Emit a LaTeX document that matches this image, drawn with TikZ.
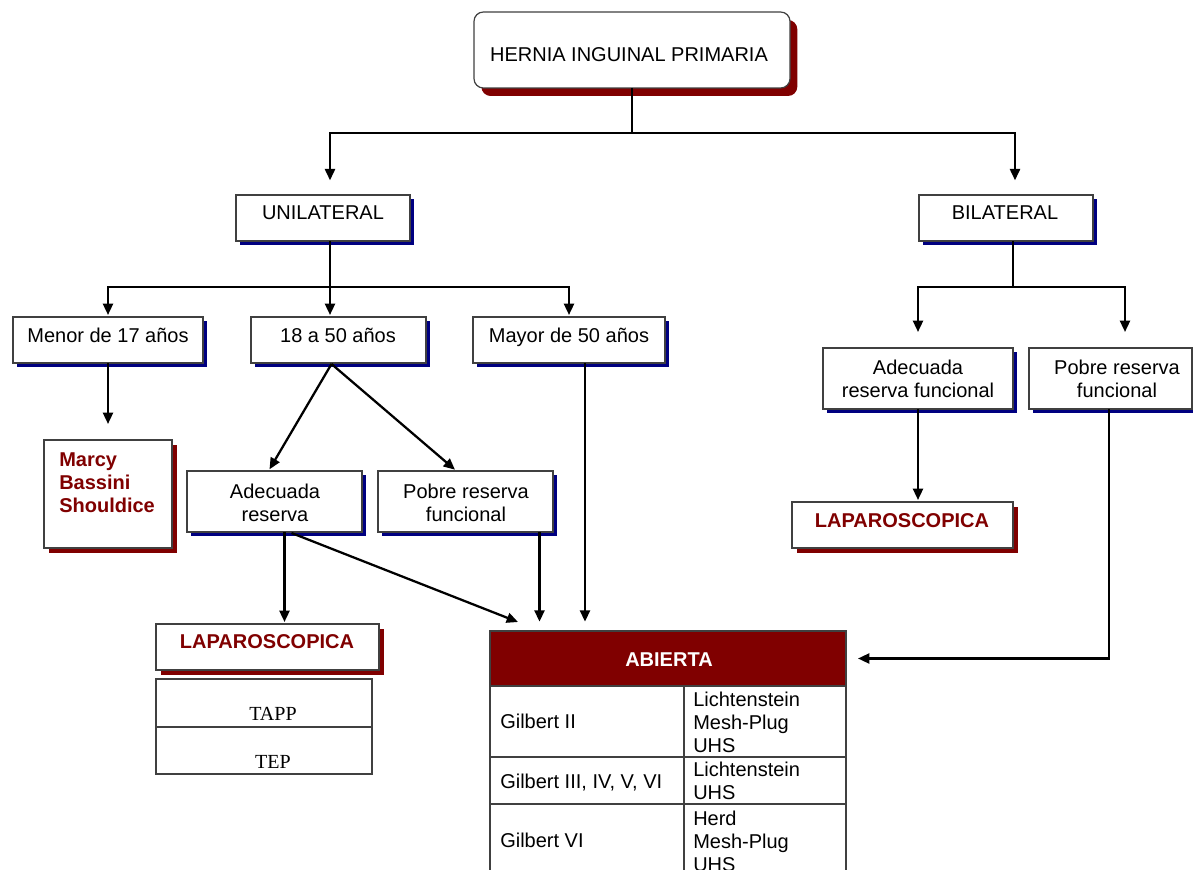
\documentclass[tikz,border=0pt]{standalone}
\usepackage{fontspec}
\setmainfont{Liberation Sans}
\newfontfamily\tnrfont{Liberation Serif}
\usetikzlibrary{shadows,fit,calc,arrows.meta}
\definecolor{maroonC}{RGB}{128,0,0}
\definecolor{navyC}{RGB}{0,0,128}
\definecolor{edgeC}{RGB}{64,64,64}
\begin{document}
\begin{tikzpicture}[x=0.75pt,y=-0.75pt,
  font=\fontsize{15}{17.25}\selectfont,
  bx/.style={draw=edgeC, line width=0.9pt, fill=white, inner sep=0pt, outer sep=0pt},
  bshadow/.style={drop shadow={shadow xshift=3pt,shadow yshift=-3pt,fill=navyC,opacity=1}},
  rshadow/.style={drop shadow={shadow xshift=4pt,shadow yshift=-4pt,fill=maroonC,opacity=1}},
  tshadow/.style={drop shadow={shadow xshift=5.5pt,shadow yshift=-6pt,fill=maroonC,opacity=1}},
  txt/.style={inner sep=0pt, anchor=base, align=center},
  ltxt/.style={inner sep=0pt, anchor=base west, align=left},
  redtxt/.style={font=\fontsize{15}{17.25}\selectfont\bfseries, text=maroonC},
  serif/.style={font=\fontsize{15}{17.25}\selectfont\tnrfont},
  tline/.style={draw=edgeC, line width=0.8pt},
  conn/.style={line width=1.7pt, black},
  arr/.style={conn, -{Triangle[length=8.5pt,width=7.5pt]}},
]
\useasboundingbox (0,0) rectangle (1193,870);
\begin{scope}
\clip (0,0) rectangle (1193,870);

% ---------- boxes ----------
\node[bx, tshadow, rounded corners=7pt, fit={(474,12) (790,88)}] (top) {};
\node[txt] at (629,62) {HERNIA INGUINAL PRIMARIA};

\node[bx, bshadow, fit={(236,195) (410,241)}] (uni) {};
\node[txt] at (323,220) {UNILATERAL};
\node[bx, bshadow, fit={(919,195) (1093,241)}] (bil) {};
\node[txt] at (1005,220) {BILATERAL};

\node[bx, bshadow, fit={(13,317) (203,363)}] (menor) {};
\node[txt] at (108,342) {Menor de 17 años};
\node[bx, bshadow, fit={(251,317) (426,363)}] (m18) {};
\node[txt] at (338,342) {18 a 50 años};
\node[bx, bshadow, fit={(473,317) (665,363)}] (mayor) {};
\node[txt] at (569,342) {Mayor de 50 años};

\node[bx, rshadow, fit={(44,440) (172,548)}] (marcy) {};
\node[ltxt, redtxt] at (59,512) {Marcy\\Bassini\\Shouldice};

\node[bx, bshadow, fit={(187,471) (362,532)}] (adq) {};
\node[txt] at (275,521) {Adecuada\\reserva};
\node[bx, bshadow, fit={(378,471) (553,532)}] (pob) {};
\node[txt] at (466,521) {Pobre reserva\\funcional};

\node[bx, rshadow, fit={(156,624) (379,670)}] (lapL) {};
\node[txt, redtxt] at (267,648) {LAPAROSCOPICA};

\node[bx, line width=0.8pt, fit={(156,679) (372,774)}] (lapTbl) {};
\draw[tline] (lapTbl.west |- 0,727) -- (lapTbl.east |- 0,727);
\node[txt, serif] at (273,720) {TAPP};
\node[txt, serif] at (273,768) {TEP};

\node[bx, bshadow, fit={(823,348) (1013,409)}] (adqF) {};
\node[txt] at (918,397) {Adecuada\\reserva funcional};
\node[bx, bshadow, fit={(1029,348) (1192,409)}] (pobF) {};
\node[txt] at (1117,397) {Pobre reserva\\funcional};

\node[bx, rshadow, fit={(792,502) (1013,548)}] (lapR) {};
\node[txt, redtxt] at (902,527) {LAPAROSCOPICA};

% ---------- ABIERTA table ----------
\node[bx, line width=0.8pt, fit={(490,631) (846,895)}] (abierta) {};
\node[draw=edgeC, line width=0.8pt, fill=maroonC, inner sep=0pt, outer sep=0pt, fit={(490,631) (846,686)}] (abhead) {};
\node[txt, font=\fontsize{15}{17.25}\selectfont\bfseries, text=white] at (669,666) {ABIERTA};
\draw[tline] (684,686) -- (684,895);
\draw[tline] (490,757) -- (846,757);
\draw[tline] (490,804) -- (846,804);
\node[ltxt] at (500,728) {Gilbert II};
\node[ltxt] at (693,752) {Lichtenstein\\Mesh-Plug\\UHS};
\node[ltxt] at (500,788) {Gilbert III, IV, V, VI};
\node[ltxt] at (693,799) {Lichtenstein\\UHS};
\node[ltxt] at (500,847) {Gilbert VI};
\node[ltxt] at (693,871) {Herd\\Mesh-Plug\\UHS};

% ---------- connectors ----------
\coordinate (j1) at ($(top.south)+(0,45)$);
\draw[conn] (top.south) -- (j1);
\draw[arr, shorten >=11pt] (j1) -| ($(uni.north)+(7,0)$);
\draw[arr, shorten >=11pt] (j1) -| ($(bil.north)+(9,0)$);

\coordinate (u1) at ($(uni.south)+(7,0)$);
\coordinate (j2) at ($(u1)+(0,46)$);
\draw[conn] (u1) -- (j2);
\draw[arr, shorten >=1.5pt] (j2) -| (menor.north);
\draw[arr, shorten >=1.5pt] (j2) -- (j2 |- m18.north);
\draw[arr, shorten >=1.5pt] (j2) -| (mayor.north);

\draw[arr, shorten >=12pt] (menor.south) -- (menor.south |- marcy.north);

\coordinate (s18) at ($(m18.south)+(-7,1)$);
\draw[arr, shorten >=1.5pt] (s18) -- ($(adq.north)+(-6,0)$);
\draw[arr, shorten >=1.5pt] (s18) -- ($(pob.north)+(-9,0)$);

\coordinate (a1) at ($(adq.south)+(10,0)$);
\draw[arr, shorten >=1.5pt] (a1) -- (a1 |- lapL.north);
\draw[arr] ($(adq.south)+(17,1)$) -- ($(abierta.north west)+(28,-9)$);

\coordinate (p1) at ($(pob.south)+(74,0)$);
\draw[arr, shorten >=7pt] (p1) -- (p1 |- abierta.north);
\coordinate (m1) at ($(mayor.south)+(16,0)$);
\draw[arr, shorten >=7pt] (m1) -- (m1 |- abierta.north);

\coordinate (b1) at ($(bil.south)+(7,0)$);
\coordinate (j3) at ($(b1)+(0,46)$);
\draw[conn] (b1) -- (j3);
\draw[arr, shorten >=12pt] (j3) -| (adqF.north);
\draw[arr, shorten >=12pt] (j3) -| ($(pobF.north)+(14.5,0)$);

\draw[arr, shorten >=1.5pt] (adqF.south) -- (adqF.south |- lapR.north);

\coordinate (p2) at ($(pobF.south)+(-1.5,0)$);
\draw[arr, shorten >=9pt] (p2) |- (abhead.east);
\end{scope}
\end{tikzpicture}
\end{document}
